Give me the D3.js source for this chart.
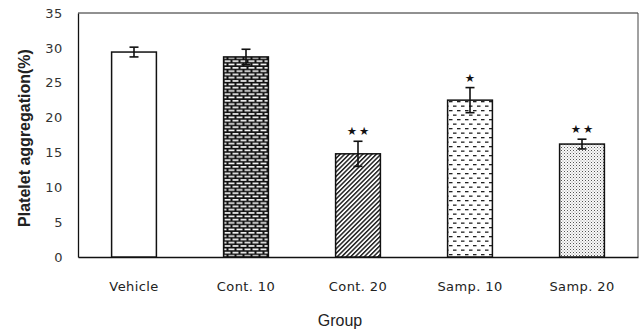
<!DOCTYPE html>
<html>
<head>
<meta charset="utf-8">
<script src="https://cdn.jsdelivr.net/npm/d3@7"></script>
<style>
  html, body { margin: 0; padding: 0; background: #fff; }
  svg { display: block; }
</style>
</head>
<body>
<svg id="chart" width="644" height="332"></svg>
<script>
// Platelet aggregation by treatment group (mean ± error)
const categories = ["Vehicle", "Cont. 10", "Cont. 20", "Samp. 10", "Samp. 20"];
const values = [29.4, 28.7, 14.8, 22.5, 16.2];
const errors = [0.7, 1.1, 1.8, 1.8, 0.7];
const marks = ["", "", "**", "*", "**"];
const patterns = ["none", "brick", "diag", "dash", "dots"];
const yTicks = [0, 5, 10, 15, 20, 25, 30, 35];

const svg = d3.select("#chart");
const m = { left: 78, right: 6, top: 13, bottom: 75 };
const W = 644, H = 332;

const x = d3.scaleBand().domain(categories).range([m.left, W - m.right]).paddingInner(0.6).paddingOuter(0.3);
const y = d3.scaleLinear().domain([0, 35]).range([H - m.bottom, m.top]);

// fill patterns
const defs = svg.append("defs");
// brick: dark ground with white staggered dashes
const pb = defs.append("pattern").attr("id", "brick").attr("patternUnits", "userSpaceOnUse")
  .attr("width", 8).attr("height", 6.6);
pb.append("rect").attr("width", 8).attr("height", 6.6).attr("fill", "#111");
pb.append("rect").attr("x", 0.5).attr("y", 1).attr("width", 6).attr("height", 1.6).attr("fill", "#fff");
pb.append("rect").attr("x", -3.5).attr("y", 4.3).attr("width", 6).attr("height", 1.6).attr("fill", "#fff");
pb.append("rect").attr("x", 4.5).attr("y", 4.3).attr("width", 6).attr("height", 1.6).attr("fill", "#fff");
// diagonal hatch
const pd = defs.append("pattern").attr("id", "diag").attr("patternUnits", "userSpaceOnUse")
  .attr("width", 3.2).attr("height", 3.2).attr("patternTransform", "rotate(45)");
pd.append("rect").attr("width", 3.2).attr("height", 3.2).attr("fill", "#fff");
pd.append("rect").attr("width", 1.5).attr("height", 3.2).attr("fill", "#222");
// horizontal dashes
const ph = defs.append("pattern").attr("id", "dash").attr("patternUnits", "userSpaceOnUse")
  .attr("width", 8).attr("height", 9);
ph.append("rect").attr("width", 8).attr("height", 9).attr("fill", "#fff");
ph.append("rect").attr("x", 1).attr("y", 2).attr("width", 3.5).attr("height", 1.3).attr("fill", "#222");
ph.append("rect").attr("x", 5).attr("y", 6.5).attr("width", 3.5).attr("height", 1.3).attr("fill", "#222");
ph.append("rect").attr("x", -3).attr("y", 6.5).attr("width", 3.5).attr("height", 1.3).attr("fill", "#222");
// fine stipple
const pt = defs.append("pattern").attr("id", "dots").attr("patternUnits", "userSpaceOnUse")
  .attr("width", 3).attr("height", 3);
pt.append("rect").attr("width", 3).attr("height", 3).attr("fill", "#fafafa");
pt.append("rect").attr("x", 0).attr("y", 0).attr("width", 1).attr("height", 1).attr("fill", "#555");
pt.append("rect").attr("x", 1.5).attr("y", 1.5).attr("width", 1).attr("height", 1).attr("fill", "#999");

// frame
svg.append("line").attr("x1", m.left).attr("x2", W - m.right).attr("y1", y(35)).attr("y2", y(35))
  .attr("stroke", "#222").attr("stroke-width", 1);
svg.append("line").attr("x1", W - m.right).attr("x2", W - m.right).attr("y1", y(35)).attr("y2", y(0))
  .attr("stroke", "#444").attr("stroke-width", 1);

// y axis
const yAxis = svg.append("g").attr("transform", `translate(${m.left},0)`)
  .call(d3.axisLeft(y).tickValues(yTicks).tickSize(0).tickPadding(15));
yAxis.select(".domain").attr("stroke", "#111").attr("stroke-width", 1.3);
yAxis.selectAll("text").attr("font-family", "DejaVu Sans, sans-serif")
  .attr("font-size", 13).attr("letter-spacing", 0.6).attr("fill", "#333");

// x axis
const xAxis = svg.append("g").attr("transform", `translate(0,${y(0)})`)
  .call(d3.axisBottom(x).tickSize(0).tickPadding(25));
xAxis.select(".domain").attr("stroke", "#111").attr("stroke-width", 1.3);
xAxis.selectAll("text").attr("font-family", "DejaVu Sans, sans-serif")
  .attr("font-size", 13).attr("letter-spacing", 0.4).attr("fill", "#222");

// bars
svg.append("g").selectAll("rect").data(categories).join("rect")
  .attr("x", d => x(d))
  .attr("y", (d, i) => y(values[i]))
  .attr("width", x.bandwidth())
  .attr("height", (d, i) => y(0) - y(values[i]))
  .attr("fill", (d, i) => patterns[i] === "none" ? "#fff" : `url(#${patterns[i]})`)
  .attr("stroke", "#111")
  .attr("stroke-width", 1.5);

// error bars
const cap = 4.5;
const eb = svg.append("g").attr("stroke", "#111").attr("stroke-width", 1.6);
categories.forEach((c, i) => {
  const cx = x(c) + x.bandwidth() / 2;
  const y1 = y(values[i] + errors[i]), y2 = y(values[i] - errors[i]);
  eb.append("line").attr("x1", cx).attr("x2", cx).attr("y1", y1).attr("y2", y2);
  eb.append("line").attr("x1", cx - cap).attr("x2", cx + cap).attr("y1", y1).attr("y2", y1);
  eb.append("line").attr("x1", cx - cap).attr("x2", cx + cap).attr("y1", y2).attr("y2", y2);
});

// significance marks
svg.append("g").selectAll("text").data(categories).join("text")
  .attr("x", d => x(d) + x.bandwidth() / 2 + 1)
  .attr("y", (d, i) => y(values[i] + errors[i]) - 6)
  .attr("text-anchor", "middle")
  .attr("font-family", "DejaVu Sans, sans-serif")
  .attr("font-size", 11.5)
  .attr("letter-spacing", 2)
  .attr("fill", "#111")
  .text((d, i) => marks[i].replace(/\*/g, "★"));

// axis titles
svg.append("text")
  .attr("transform", `translate(30,${(y(0) + y(35)) / 2 + 3}) rotate(-90)`)
  .attr("text-anchor", "middle")
  .attr("font-family", "Liberation Sans, Arial, sans-serif")
  .attr("font-size", 16).attr("font-weight", "bold").attr("fill", "#222")
  .text("Platelet aggregation(%)");

svg.append("text")
  .attr("x", (m.left + W - m.right) / 2 - 18)
  .attr("y", 326)
  .attr("text-anchor", "middle")
  .attr("font-family", "Liberation Sans, Arial, sans-serif")
  .attr("font-size", 16).attr("fill", "#222")
  .text("Group");
</script>
</body>
</html>
